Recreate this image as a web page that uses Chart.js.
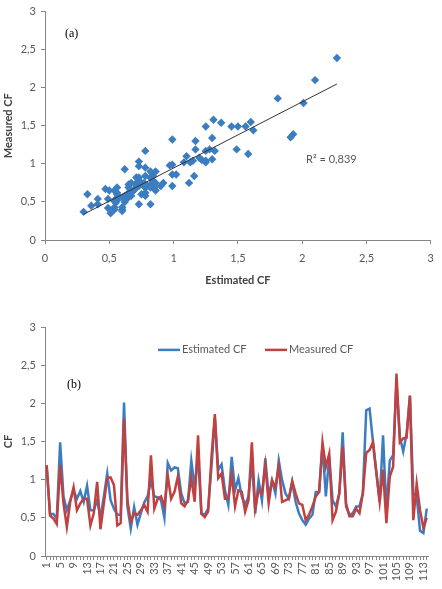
<!DOCTYPE html>
<html>
<head>
<meta charset="utf-8">
<script src="https://cdn.jsdelivr.net/npm/chart.js@4.4.1/dist/chart.umd.min.js"></script>
<style>
  html, body { margin: 0; padding: 0; background: #fff; }
  #wrap { position: relative; width: 442px; height: 589px; }
  .box { position: absolute; left: 0; width: 442px; }
  #boxA { top: 0; height: 292px; }
  #boxB { top: 310px; height: 279px; }
</style>
</head>
<body>
<div id="wrap">
  <div class="box" id="boxA"><canvas id="scatterChart"></canvas></div>
  <div class="box" id="boxB"><canvas id="lineChart"></canvas></div>
</div>
<script>
// Data, one value per sample
const estimatedCF = [
  1.17, 0.55, 0.55, 0.49, 1.49, 0.78, 0.60, 0.73, 0.86, 0.75,
  0.85, 0.71, 0.92, 0.60, 0.60, 0.73, 0.51, 0.78, 1.08, 0.73,
  0.62, 0.54, 0.54, 2.01, 0.65, 0.36, 0.64, 0.41, 0.56, 0.70,
  0.78, 0.99, 0.78, 0.77, 0.73, 0.50, 1.22, 1.12, 1.16, 1.15,
  0.82, 0.69, 0.71, 1.25, 0.90, 1.31, 0.56, 0.54, 0.62, 1.17,
  1.81, 1.13, 1.20, 0.86, 0.67, 1.30, 0.86, 1.02, 0.78, 0.67,
  0.78, 1.25, 0.56, 0.99, 0.73, 1.28, 0.78, 0.99, 0.82, 1.25,
  0.99, 0.82, 0.75, 0.97, 0.71, 0.56, 0.47, 0.41, 0.49, 0.54,
  0.84, 0.84, 1.45, 0.78, 1.30, 0.73, 0.65, 0.82, 1.62, 0.65,
  0.54, 0.56, 0.65, 0.65, 0.82, 1.91, 1.93, 1.50, 1.10, 0.71,
  1.58, 0.60, 1.25, 1.32, 2.27, 1.56, 1.37, 1.60, 2.10, 0.82,
  0.78, 0.33, 0.30, 0.62
];
const measuredCF = [
  1.19, 0.53, 0.49, 0.42, 1.19, 0.69, 0.38, 0.71, 0.90, 0.60,
  0.69, 0.75, 0.75, 0.40, 0.56, 0.97, 0.35, 0.69, 1.02, 1.03,
  0.93, 0.40, 0.43, 1.80, 0.73, 0.45, 0.56, 0.54, 0.60, 0.67,
  0.58, 1.32, 0.62, 0.75, 0.78, 0.65, 1.05, 0.75, 0.84, 1.04,
  0.69, 0.65, 0.73, 1.02, 0.71, 1.58, 0.55, 0.51, 0.58, 1.30,
  1.86, 1.02, 1.08, 0.75, 0.75, 1.06, 0.65, 0.86, 0.84, 0.58,
  0.73, 1.49, 0.62, 0.86, 0.82, 1.19, 0.69, 0.99, 0.90, 1.17,
  0.71, 0.73, 0.75, 0.98, 0.82, 0.69, 0.67, 0.47, 0.54, 0.65,
  0.78, 0.84, 1.49, 1.17, 1.34, 0.47, 0.58, 0.82, 1.44, 0.69,
  0.52, 0.52, 0.62, 0.56, 0.82, 1.35, 1.39, 1.49, 1.10, 0.71,
  1.13, 0.43, 1.04, 1.17, 2.39, 1.49, 1.54, 1.55, 2.10, 0.47,
  0.95, 0.60, 0.37, 0.50
];
const sampleLabels = estimatedCF.map((v, i) => String(i + 1));
const seriesNames = ["Estimated CF", "Measured CF"];
const r2Text = "R\u00B2 = 0,839";

// Colours
const BLUE = "#3C7DC2";
const RED = "#C0413F";
const AXIS = "#868686";
const TEXT = "#595959";

Chart.defaults.font.family = "Lato, 'Open Sans', sans-serif";
Chart.defaults.font.size = 11;
Chart.defaults.color = TEXT;

const comma = (v) => String(v).replace(".", ",");

// Linear trend line (least squares) of measured vs estimated
function trendLine(xs, ys) {
  const n = xs.length;
  const mx = xs.reduce((a, b) => a + b, 0) / n;
  const my = ys.reduce((a, b) => a + b, 0) / n;
  let sxy = 0, sxx = 0;
  for (let i = 0; i < n; i++) {
    sxy += (xs[i] - mx) * (ys[i] - my);
    sxx += (xs[i] - mx) ** 2;
  }
  const b = sxy / sxx;
  const a = my - b * mx;
  const x0 = Math.min(...xs), x1 = Math.max(...xs);
  return [{ x: x0, y: a + b * x0 }, { x: x1, y: a + b * x1 }];
}

const valueAxis = (titleText, width) => ({
  min: 0,
  max: 3,
  ticks: { stepSize: 0.5, padding: 5, color: TEXT, callback: comma },
  grid: { drawOnChartArea: false, drawTicks: true, tickLength: 4, color: AXIS },
  border: { color: AXIS },
  title: {
    display: true,
    text: titleText,
    color: "#404040",
    font: { weight: "bold", size: 11 },
    padding: { top: 2, bottom: 0 },
  },
  afterFit: (scale) => { scale.width = width; },
});

// (a) scatter annotations
const scatterNotes = {
  id: "scatterNotes",
  afterDraw(chart) {
    const { ctx, scales } = chart;
    ctx.save();
    ctx.textBaseline = "middle";
    ctx.font = "12px 'Liberation Serif', serif";
    ctx.fillStyle = "#000";
    ctx.fillText("(a)", scales.x.getPixelForValue(0.155), scales.y.getPixelForValue(2.71));
    ctx.font = "11px Lato, sans-serif";
    ctx.fillStyle = TEXT;
    ctx.fillText(r2Text, scales.x.getPixelForValue(2.03), scales.y.getPixelForValue(1.06));
    ctx.restore();
  },
};

// (b) legend inside the plot and panel label
const lineNotes = {
  id: "lineNotes",
  afterDraw(chart) {
    const { ctx, chartArea, scales } = chart;
    const y = scales.y.getPixelForValue(2.7);
    const items = [
      { name: seriesNames[0], color: BLUE, x: chartArea.left + 113 },
      { name: seriesNames[1], color: RED, x: chartArea.left + 220 },
    ];
    ctx.save();
    ctx.lineWidth = 2.5;
    ctx.textBaseline = "middle";
    ctx.font = "11px Lato, sans-serif";
    items.forEach((it) => {
      ctx.strokeStyle = it.color;
      ctx.beginPath();
      ctx.moveTo(it.x, y);
      ctx.lineTo(it.x + 22, y);
      ctx.stroke();
      ctx.fillStyle = TEXT;
      ctx.fillText(it.name, it.x + 24, y);
    });
    ctx.font = "12px 'Liberation Serif', serif";
    ctx.fillStyle = "#000";
    ctx.fillText("(b)", chartArea.left + 22, scales.y.getPixelForValue(2.24));
    ctx.restore();
  },
};

// Scatter chart
new Chart(document.getElementById("scatterChart"), {
  type: "scatter",
  data: {
    datasets: [
      {
        type: "line",
        data: trendLine(estimatedCF, measuredCF),
        borderColor: "#333333",
        borderWidth: 1,
        pointRadius: 0,
        order: 0,
      },
      {
        data: estimatedCF.map((x, i) => ({ x: x, y: measuredCF[i] })),
        pointStyle: "rectRot",
        pointRadius: 4.2,
        backgroundColor: BLUE,
        borderColor: BLUE,
        borderWidth: 0,
        order: 1,
      },
    ],
  },
  options: {
    responsive: true,
    maintainAspectRatio: false,
    animation: false,
    layout: { padding: { top: 10, right: 7, left: 0, bottom: 0 } },
    plugins: { legend: { display: false }, tooltip: { enabled: false } },
    scales: {
      x: {
        type: "linear",
        min: 0,
        max: 3,
        ticks: { stepSize: 0.5, padding: 8, color: TEXT, callback: comma },
        grid: { drawOnChartArea: false, drawTicks: true, tickLength: 4, color: AXIS },
        border: { color: AXIS },
        title: {
          display: true,
          text: "Estimated CF",
          color: "#404040",
          font: { weight: "bold", size: 11 },
          padding: { top: 4, bottom: 5 },
        },
        afterFit: (scale) => { scale.height = 52; },
      },
      y: valueAxis("Measured CF", 45),
    },
  },
  plugins: [scatterNotes],
});

// Line chart
new Chart(document.getElementById("lineChart"), {
  type: "line",
  data: {
    labels: sampleLabels,
    datasets: [
      {
        label: seriesNames[0],
        data: estimatedCF,
        borderColor: BLUE,
        borderWidth: 2.5,
        pointRadius: 0,
        tension: 0,
        order: 1,
      },
      {
        label: seriesNames[1],
        data: measuredCF,
        borderColor: RED,
        borderWidth: 2.5,
        pointRadius: 0,
        tension: 0,
        order: 0,
      },
    ],
  },
  options: {
    responsive: true,
    maintainAspectRatio: false,
    animation: false,
    layout: { padding: { top: 17, right: 9, left: 0, bottom: 0 } },
    plugins: { legend: { display: false }, tooltip: { enabled: false } },
    scales: {
      x: {
        offset: true,
        ticks: {
          autoSkip: false,
          minRotation: 90,
          maxRotation: 90,
          padding: 2,
          color: TEXT,
          callback: (v, i) => (i % 4 === 0 ? sampleLabels[i] : ""),
        },
        grid: { drawOnChartArea: false, drawTicks: true, tickLength: 4, color: AXIS },
        border: { color: AXIS },
        afterFit: (scale) => { scale.height = 33; },
      },
      y: valueAxis("CF", 45),
    },
  },
  plugins: [lineNotes],
});
</script>
</body>
</html>
